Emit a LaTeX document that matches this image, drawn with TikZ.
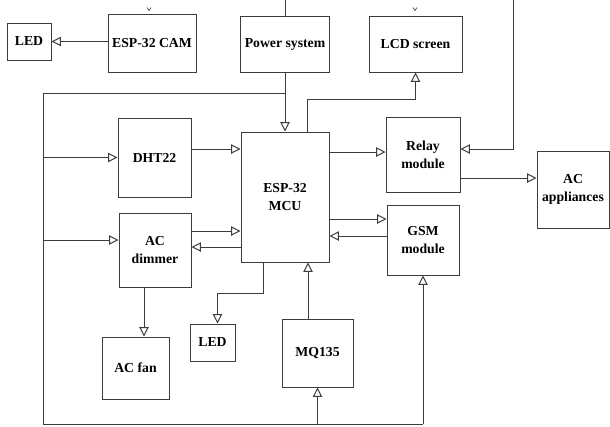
\documentclass[tikz,border=0pt]{standalone}
\usepackage{fontspec}
\setmainfont{Liberation Serif}[BoldFont={Liberation Serif Bold}]
\usetikzlibrary{arrows.meta,calc}
\definecolor{wire}{RGB}{60,60,60}
\tikzset{every picture/.style={line width=0.75pt}}
\tikzset{
  blk/.style={draw=wire, inner sep=0pt, align=center, text=black,
    font=\fontsize{10.3}{13.5}\selectfont\bfseries},
  wr/.style={draw=wire},
  arr/.style={draw=wire, -{Triangle[open,length=7pt,width=7pt]}},
}
\begin{document}
\begin{tikzpicture}[x=0.75pt,y=0.75pt,yscale=-1,xscale=1]
\useasboundingbox (0,0) rectangle (610,426);

% Blocks
\node[blk, minimum width=33pt, minimum height=27.75pt] (led1) at (29,41.5) {LED};
\node[blk, minimum width=66pt, minimum height=43.5pt] (cam) at (152,43) {ESP-32 CAM};
\node[blk, minimum width=66.75pt, minimum height=42pt] (power) at (285,44) {Power system};
\node[blk, minimum width=69.75pt, minimum height=42pt] (lcd) at (415.5,44) {LCD screen};
\node[blk, minimum width=54.75pt, minimum height=59.25pt] (dht) at (154.5,157.5) {DHT22};
\node[blk, minimum width=66pt, minimum height=97.5pt] (mcu) at (285,197) {ESP-32\\MCU};
\node[blk, minimum width=55.5pt, minimum height=56.25pt] (relay) at (423,154.5) {Relay\\module};
\node[blk, minimum width=54pt, minimum height=57.75pt] (appl) at (573,189.5) {AC\\appliances};
\node[blk, minimum width=54pt, minimum height=55.5pt] (dimmer) at (155,250) {AC\\dimmer};
\node[blk, minimum width=54pt, minimum height=52.5pt] (gsm) at (423,240) {GSM\\module};
\node[blk, minimum width=50.25pt, minimum height=46.5pt] (fan) at (135.5,368) {AC fan};
\node[blk, minimum width=33.75pt, minimum height=27.75pt] (led2) at (212.5,342.5) {LED};
\node[blk, minimum width=53.25pt, minimum height=51pt] (mq) at (317.5,353) {MQ135};

% Free ends and loop corners
\coordinate (ptop) at (285,0);
\coordinate (rtop) at (513,0);
\coordinate (lt) at (43,93);
\coordinate (lb) at (43,424);

% Tap points
\coordinate (d1) at ($(dht.east)+(0,-8.5)$);
\coordinate (a1) at ($(dimmer.east)+(0,-19)$);
\coordinate (a2) at ($(dimmer.east)+(0,-3)$);
\coordinate (a3) at ($(dimmer.south)+(-11,0)$);
\coordinate (m1) at ($(mcu.south)+(-22,0)$);
\coordinate (m2) at ($(mcu.north)+(22,0)$);
\coordinate (m3) at ($(mcu.east)+(0,-45)$);
\coordinate (g1) at ($(gsm.west)+(0,-21)$);
\coordinate (g2) at ($(gsm.west)+(0,-4)$);
\coordinate (q1) at ($(mq.north)+(-9.5,0)$);
\coordinate (r1) at ($(relay.east)+(0,-5.5)$);
\coordinate (r2) at ($(relay.east)+(0,23.5)$);

% Power and supply loop
\draw[wr] (ptop) -- (power.north);
\draw[arr] (power.south) -- (mcu.north);
\draw[wr] (power.south |- lt) -- (lt) -- (lb) -- (gsm.south |- lb);
\draw[arr] (lt |- dht.west) -- (dht.west);
\draw[arr] (lt |- {$(dimmer.west)+(0,-10)$}) -- ($(dimmer.west)+(0,-10)$);
\draw[arr] (mq.south |- lb) -- (mq.south);
\draw[arr] (gsm.south |- lb) -- (gsm.south);

% Camera side
\draw[arr] (led1.east -| cam.west) -- (led1.east);

% Signals
\draw[arr] (d1) -- (d1 -| mcu.west);
\draw[arr] (a1) -- (a1 -| mcu.west);
\draw[arr] (a2 -| mcu.west) -- (a2);
\draw[arr] (a3) -- (a3 |- fan.north);
\draw[arr] (m1) -- ++(0,31) -| ($(led2.north)+(5,0)$);
\draw[arr] (q1) -- (q1 |- mcu.south);
\draw[arr] (m2) -- ++(0,-32) -| (lcd.south);
\draw[arr] (m3) -- (m3 -| relay.west);
\draw[arr] (rtop) |- (r1);
\draw[arr] (r2) -- (r2 -| appl.west);
\draw[arr] (g1 -| mcu.east) -- (g1);
\draw[arr] (g2) -- (g2 -| mcu.east);

% Cut-off tips at the top
\draw[wr, line width=0.5pt] ($(cam.north)+(-5,-6)$) -- ++(2,3) -- ++(2,-3);
\draw[wr, line width=0.5pt] ($(lcd.north)+(-2.5,-8)$) -- ++(2,3) -- ++(2,-3);

\end{tikzpicture}
\end{document}
